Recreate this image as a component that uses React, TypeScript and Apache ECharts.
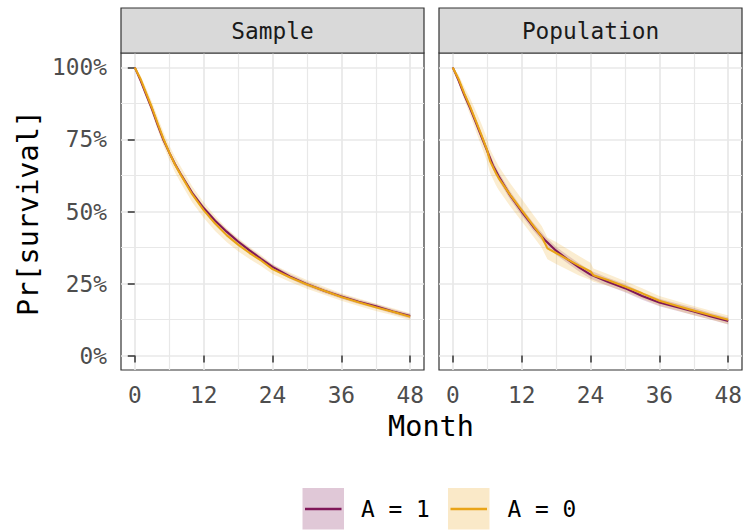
import React, { useEffect, useRef } from "react";
import * as echarts from "echarts";

// ---- data ----
const MONTHS = [0, 1, 2, 3, 4, 5, 6, 7, 8, 10, 12, 14, 16, 18, 20, 22, 24, 27, 30, 33, 36, 39, 42, 45, 48];

// Sample, A = 1
const S1 = [1.0, 0.955, 0.905, 0.855, 0.8, 0.748, 0.705, 0.665, 0.63, 0.565, 0.512, 0.468, 0.43, 0.396, 0.365, 0.336, 0.308, 0.275, 0.248, 0.225, 0.205, 0.187, 0.171, 0.153, 0.137];
const S1_LO = [1.0, 0.95, 0.899, 0.848, 0.793, 0.741, 0.698, 0.657, 0.622, 0.557, 0.504, 0.46, 0.422, 0.388, 0.357, 0.328, 0.3, 0.267, 0.24, 0.217, 0.197, 0.179, 0.163, 0.145, 0.129];
const S1_HI = [1.0, 0.96, 0.911, 0.862, 0.807, 0.755, 0.712, 0.673, 0.638, 0.573, 0.52, 0.476, 0.438, 0.404, 0.373, 0.344, 0.316, 0.283, 0.256, 0.233, 0.213, 0.195, 0.179, 0.161, 0.145];

// Sample, A = 0
const S0 = [1.0, 0.96, 0.91, 0.86, 0.805, 0.752, 0.705, 0.663, 0.628, 0.56, 0.505, 0.458, 0.418, 0.385, 0.356, 0.33, 0.3, 0.272, 0.247, 0.225, 0.203, 0.185, 0.168, 0.152, 0.135];
const S0_LO = [1.0, 0.948, 0.893, 0.84, 0.783, 0.728, 0.68, 0.636, 0.6, 0.532, 0.478, 0.432, 0.394, 0.362, 0.335, 0.311, 0.283, 0.256, 0.232, 0.211, 0.19, 0.172, 0.155, 0.14, 0.123];
const S0_HI = [1.0, 0.972, 0.927, 0.88, 0.827, 0.776, 0.73, 0.69, 0.656, 0.588, 0.532, 0.484, 0.442, 0.408, 0.377, 0.349, 0.317, 0.288, 0.262, 0.239, 0.216, 0.198, 0.181, 0.164, 0.147];

// Population, A = 1
const P1 = [1.0, 0.955, 0.905, 0.86, 0.81, 0.76, 0.71, 0.66, 0.622, 0.556, 0.5, 0.448, 0.402, 0.364, 0.334, 0.306, 0.281, 0.256, 0.234, 0.207, 0.184, 0.169, 0.153, 0.136, 0.12];
const P1_LO = [1.0, 0.948, 0.896, 0.849, 0.798, 0.747, 0.697, 0.646, 0.608, 0.542, 0.486, 0.434, 0.388, 0.35, 0.32, 0.292, 0.267, 0.242, 0.22, 0.194, 0.171, 0.156, 0.14, 0.124, 0.108];
const P1_HI = [1.0, 0.962, 0.914, 0.871, 0.822, 0.773, 0.723, 0.674, 0.636, 0.57, 0.514, 0.462, 0.416, 0.378, 0.348, 0.32, 0.295, 0.27, 0.248, 0.22, 0.197, 0.182, 0.166, 0.148, 0.132];

// Population, A = 0
const MONTHS_P0 = [0, 1, 2, 3, 4, 5, 6, 6.5, 7.5, 8, 10, 12, 14, 15.5, 16.5, 18, 20, 22, 24, 24.5, 27, 30, 33, 36, 39, 42, 45, 48];
const P0 = [1.0, 0.96, 0.91, 0.865, 0.815, 0.765, 0.712, 0.675, 0.634, 0.616, 0.558, 0.505, 0.452, 0.412, 0.372, 0.356, 0.334, 0.312, 0.292, 0.279, 0.262, 0.24, 0.216, 0.19, 0.173, 0.156, 0.14, 0.124];
const P0_LO = [1.0, 0.945, 0.888, 0.836, 0.78, 0.726, 0.672, 0.634, 0.592, 0.575, 0.518, 0.466, 0.414, 0.374, 0.334, 0.318, 0.298, 0.278, 0.262, 0.256, 0.242, 0.222, 0.198, 0.173, 0.157, 0.14, 0.125, 0.109];
const P0_HI = [1.0, 0.975, 0.932, 0.894, 0.85, 0.804, 0.752, 0.716, 0.676, 0.657, 0.598, 0.544, 0.49, 0.45, 0.41, 0.394, 0.37, 0.346, 0.322, 0.302, 0.283, 0.259, 0.234, 0.207, 0.189, 0.172, 0.156, 0.139];

const X_MAJOR = [0, 12, 24, 36, 48];
const X_MINOR = [6, 18, 30, 42];
const Y_MAJOR = [0, 0.25, 0.5, 0.75, 1];
const Y_MINOR = [0.125, 0.375, 0.625, 0.875];
const PANELS = ["Sample", "Population"];
const GROUPS = ["A = 1", "A = 0"];

const PURPLE = "#7f1758";
const ORANGE = "#e9a417";
const PURPLE_RIBBON = "rgba(127,23,88,0.2)";
const ORANGE_RIBBON = "rgba(233,164,23,0.2)";
const PURPLE_KEY = "rgba(127,23,88,0.24)";
const ORANGE_KEY = "rgba(233,164,23,0.24)";
const MONO = "DejaVu Sans Mono";
const GRID_COLOR = "#e8e8e8";

const GRIDS = [
  { left: 121, top: 53, width: 303, height: 317 },
  { left: 439, top: 53, width: 303, height: 317 },
];

function ribbon(grid: number, months: number[], lo: number[], hi: number[], fill: string) {
  return {
    type: "custom",
    xAxisIndex: grid * 2,
    yAxisIndex: grid * 2,
    z: 1,
    silent: true,
    data: [[months[0], hi[0]]],
    encode: { x: 0, y: 1 },
    renderItem: (params: any, api: any) => {
      if (params.dataIndex !== 0) return null;
      const pts: number[][] = [];
      for (let i = 0; i < months.length; i++) pts.push(api.coord([months[i], hi[i]]));
      for (let i = months.length - 1; i >= 0; i--) pts.push(api.coord([months[i], lo[i]]));
      return { type: "polygon", shape: { points: pts }, style: { fill } };
    },
  };
}

function line(grid: number, months: number[], vals: number[], color: string, name: string, z: number) {
  return {
    type: "line",
    name,
    xAxisIndex: grid * 2,
    yAxisIndex: grid * 2,
    z,
    showSymbol: false,
    symbol: "none",
    silent: true,
    lineStyle: { color, width: 2.1 },
    data: months.map((m, i) => [m, vals[i]]),
  };
}

export default function App() {
  const ref = useRef<HTMLDivElement>(null);
  useEffect(() => {
    if (!ref.current) return;
    const chart = echarts.init(ref.current, null, { renderer: "svg" });

    const xAxes: any[] = [];
    const yAxes: any[] = [];
    GRIDS.forEach((_, g) => {
      xAxes.push({
        type: "value",
        gridIndex: g,
        min: -2.4,
        max: 50.4,
        axisLine: { show: false },
        axisTick: { show: true, customValues: X_MAJOR, length: 7, lineStyle: { color: "#333333", width: 1.5 } },
        axisLabel: { show: true, customValues: X_MAJOR, margin: 13, fontFamily: MONO, fontSize: 22.8, color: "#4d4d4d" },
        splitLine: { show: true, lineStyle: { color: GRID_COLOR, width: 1.7 } },
      });
      xAxes.push({
        type: "value",
        gridIndex: g,
        min: -2.4,
        max: 50.4,
        axisLine: { show: false },
        axisTick: { show: false, customValues: X_MINOR },
        axisLabel: { show: false },
        splitLine: { show: true, lineStyle: { color: GRID_COLOR, width: 1.2 } },
      });
      yAxes.push({
        type: "value",
        gridIndex: g,
        min: -0.05,
        max: 1.05,
        axisLine: { show: false },
        axisTick: { show: g === 0, customValues: Y_MAJOR, length: 7, lineStyle: { color: "#333333", width: 1.5 } },
        axisLabel: {
          show: g === 0,
          customValues: Y_MAJOR,
          margin: 14,
          fontFamily: MONO,
          fontSize: 22.8,
          color: "#4d4d4d",
          formatter: (v: number) => Math.round(v * 100) + "%",
        },
        splitLine: { show: true, lineStyle: { color: GRID_COLOR, width: 1.7 } },
      });
      yAxes.push({
        type: "value",
        gridIndex: g,
        min: -0.05,
        max: 1.05,
        axisLine: { show: false },
        axisTick: { show: false, customValues: Y_MINOR },
        axisLabel: { show: false },
        splitLine: { show: true, lineStyle: { color: GRID_COLOR, width: 1.2 } },
      });
    });

    const graphics: any[] = [];
    GRIDS.forEach((gr, g) => {
      graphics.push({
        type: "rect",
        shape: { x: gr.left, y: 8, width: gr.width, height: 45 },
        style: { fill: "#d9d9d9", stroke: "#333333", lineWidth: 1.2 },
        z: 10,
      });
      graphics.push({
        type: "text",
        x: gr.left + gr.width / 2,
        y: 31,
        style: { text: PANELS[g], font: `22.8px "${MONO}"`, fill: "#1a1a1a", align: "center", verticalAlign: "middle" },
        z: 11,
      });
    });
    graphics.push({
      type: "text",
      x: 431,
      y: 426,
      style: { text: "Month", font: `28.5px "${MONO}"`, fill: "#000", align: "center", verticalAlign: "middle" },
    });
    graphics.push({
      type: "text",
      x: 28,
      y: 213,
      rotation: Math.PI / 2,
      style: { text: "Pr[survival]", font: `28.5px "${MONO}"`, fill: "#000", align: "center", verticalAlign: "middle" },
    });
    const legendKeys = [
      { x: 302.5, fill: PURPLE_KEY, color: PURPLE, tx: 361 },
      { x: 448, fill: ORANGE_KEY, color: ORANGE, tx: 507.5 },
    ];
    legendKeys.forEach((k, i) => {
      graphics.push({
        type: "rect",
        shape: { x: k.x, y: 488, width: 41.5, height: 41.5 },
        style: { fill: k.fill },
      });
      graphics.push({
        type: "line",
        shape: { x1: k.x + 2.5, y1: 509, x2: k.x + 39, y2: 509 },
        style: { stroke: k.color, lineWidth: 2.5 },
      });
      graphics.push({
        type: "text",
        x: k.tx,
        y: 509,
        style: { text: GROUPS[i], font: `22.8px "${MONO}"`, fill: "#000", align: "left", verticalAlign: "middle" },
      });
    });

    chart.setOption({
      animation: false,
      backgroundColor: "#ffffff",
      grid: GRIDS.map((gr) => ({ ...gr, show: true, backgroundColor: "#ffffff", borderColor: "#333333", borderWidth: 1.2 })),
      xAxis: xAxes,
      yAxis: yAxes,
      series: [
        ribbon(0, MONTHS, S1_LO, S1_HI, PURPLE_RIBBON),
        ribbon(0, MONTHS, S0_LO, S0_HI, ORANGE_RIBBON),
        ribbon(1, MONTHS, P1_LO, P1_HI, PURPLE_RIBBON),
        ribbon(1, MONTHS_P0, P0_LO, P0_HI, ORANGE_RIBBON),
        line(0, MONTHS, S1, PURPLE, GROUPS[0], 3),
        line(0, MONTHS, S0, ORANGE, GROUPS[1], 4),
        line(1, MONTHS, P1, PURPLE, GROUPS[0], 3),
        line(1, MONTHS_P0, P0, ORANGE, GROUPS[1], 4),
      ],
      graphic: graphics,
    });
    return () => chart.dispose();
  }, []);
  return <div ref={ref} style={{ position: "absolute", left: 0, top: 0, width: 745, height: 530 }} />;
}
